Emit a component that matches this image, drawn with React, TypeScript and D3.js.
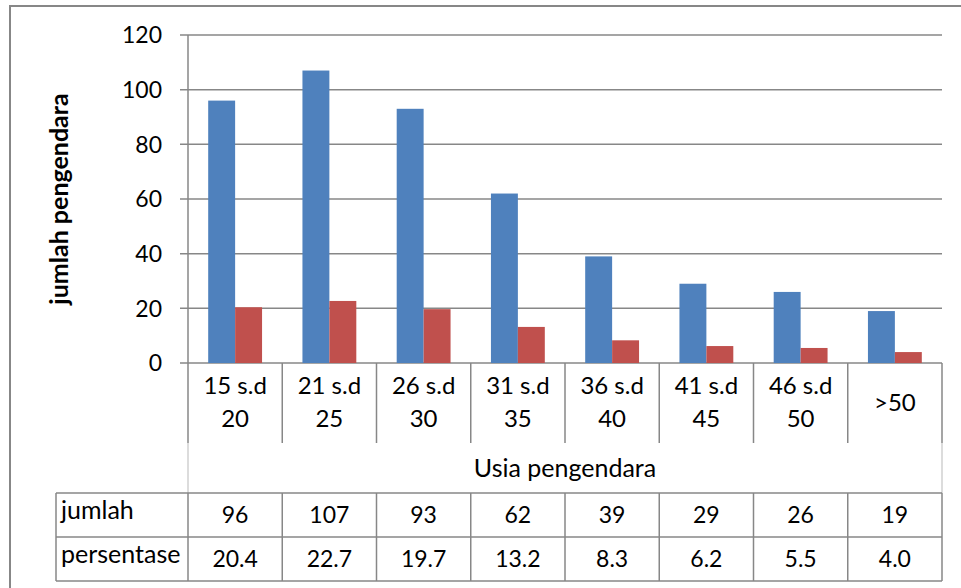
import React from "react";
import * as d3 from "d3";

// Age groups of riders and the two data rows
const categories: string[][] = [
  ["15 s.d", "20"],
  ["21 s.d", "25"],
  ["26 s.d", "30"],
  ["31 s.d", "35"],
  ["36 s.d", "40"],
  ["41 s.d", "45"],
  ["46 s.d", "50"],
  [">50"],
];
const jumlah: number[] = [96, 107, 93, 62, 39, 29, 26, 19];
const persentase: number[] = [20.4, 22.7, 19.7, 13.2, 8.3, 6.2, 5.5, 4.0];
const persentaseLabels: string[] = ["20.4", "22.7", "19.7", "13.2", "8.3", "6.2", "5.5", "4.0"];
const yTicks: number[] = [0, 20, 40, 60, 80, 100, 120];
const seriesNames: string[] = ["jumlah", "persentase"];
const seriesColors: string[] = ["#4F81BD", "#C0504D"];
const xTitle = "Usia pengendara";
const yTitle = "jumlah pengendara";

const W = 961;
const H = 588;
const FONT = "Lato, 'Open Sans', sans-serif";
const GRID = "#878787";

export default function App() {
  const left = 188;
  const right = 942;
  const top = 35;
  const bottom = 363;
  const catBottom = 443;
  const tableTop = 493;
  const rowH = 44;
  const tableLeft = 56;

  const keys = categories.map((_, i) => String(i));
  const x0 = d3.scaleBand<string>().domain(keys).range([left, right]).paddingInner(0).paddingOuter(0);
  const x1 = d3
    .scaleBand<string>()
    .domain(seriesNames)
    .range([0, x0.bandwidth()])
    .paddingInner(0)
    .paddingOuter(0.75);
  const y = d3.scaleLinear().domain([0, 120]).range([bottom, top]);

  const values = [jumlah, persentase];
  const bounds = keys.map((k) => x0(k) as number).concat([right]);

  return (
    <div style={{ position: "absolute", left: 0, top: 0 }}>
      <svg width={W} height={H} style={{ display: "block", background: "#fff" }} fontFamily={FONT}>
        {/* chart frame */}
        <rect x={10} y={6} width={W + 20} height={H + 20} fill="#fff" stroke={GRID} strokeWidth={2} />

        {/* gridlines with tick marks */}
        {yTicks.map((t) => (
          <g key={t}>
            <line x1={180} x2={right} y1={y(t)} y2={y(t)} stroke={GRID} strokeWidth={1.5} />
            <text x={162} y={y(t)} dy="0.36em" textAnchor="end" fontSize={23} fill="#000">
              {t}
            </text>
          </g>
        ))}
        {/* vertical axis */}
        <line x1={left} x2={left} y1={top} y2={bottom} stroke={GRID} strokeWidth={1.5} />

        {/* bars */}
        {values.map((vals, s) =>
          vals.map((v, i) => (
            <rect
              key={`${s}-${i}`}
              x={(x0(keys[i]) as number) + (x1(seriesNames[s]) as number)}
              y={y(v)}
              width={x1.bandwidth()}
              height={bottom - y(v)}
              fill={seriesColors[s]}
            />
          ))
        )}

        {/* category separators */}
        {bounds.map((b, i) => (
          <line key={i} x1={b} x2={b} y1={bottom} y2={catBottom} stroke={GRID} strokeWidth={1.5} />
        ))}
        {/* category labels */}
        {categories.map((lines, i) => {
          const cx = (x0(keys[i]) as number) + x0.bandwidth() / 2;
          const first = lines.length === 1 ? 411 : 394;
          return (
            <text key={i} x={cx} textAnchor="middle" fontSize={24} fill="#000">
              {lines.map((l, j) => (
                <tspan key={j} x={cx} y={first + j * 33}>
                  {l}
                </tspan>
              ))}
            </text>
          );
        })}

        {/* axis title row */}
        <line x1={left} x2={left} y1={catBottom} y2={tableTop} stroke="#d0d0d0" strokeWidth={1.5} />
        <line x1={right} x2={right} y1={catBottom} y2={tableTop} stroke="#d0d0d0" strokeWidth={1.5} />
        <text x={(left + right) / 2} y={477} textAnchor="middle" fontSize={25} fill="#000">
          {xTitle}
        </text>

        {/* data table */}
        {[0, 1, 2].map((r) => (
          <line
            key={r}
            x1={tableLeft}
            x2={right}
            y1={tableTop + r * rowH}
            y2={tableTop + r * rowH}
            stroke={GRID}
            strokeWidth={1.5}
          />
        ))}
        {[tableLeft, ...bounds].map((b, i) => (
          <line key={i} x1={b} x2={b} y1={tableTop} y2={tableTop + 2 * rowH} stroke={GRID} strokeWidth={1.5} />
        ))}
        {seriesNames.map((name, r) => (
          <text key={name} x={61} y={tableTop + r * rowH + 26} fontSize={25} fill="#000">
            {name}
          </text>
        ))}
        {jumlah.map((v, i) => (
          <text
            key={`j${i}`}
            x={(x0(keys[i]) as number) + x0.bandwidth() / 2}
            y={tableTop + 30}
            textAnchor="middle"
            fontSize={23}
            fill="#000"
          >
            {v}
          </text>
        ))}
        {persentaseLabels.map((v, i) => (
          <text
            key={`p${i}`}
            x={(x0(keys[i]) as number) + x0.bandwidth() / 2}
            y={tableTop + rowH + 30}
            textAnchor="middle"
            fontSize={23}
            fill="#000"
          >
            {v}
          </text>
        ))}

        {/* value axis title */}
        <text
          transform={`translate(68, ${(top + bottom) / 2}) rotate(-90)`}
          textAnchor="middle"
          fontSize={25}
          fontWeight="bold"
          fill="#000"
        >
          {yTitle}
        </text>
      </svg>
    </div>
  );
}
